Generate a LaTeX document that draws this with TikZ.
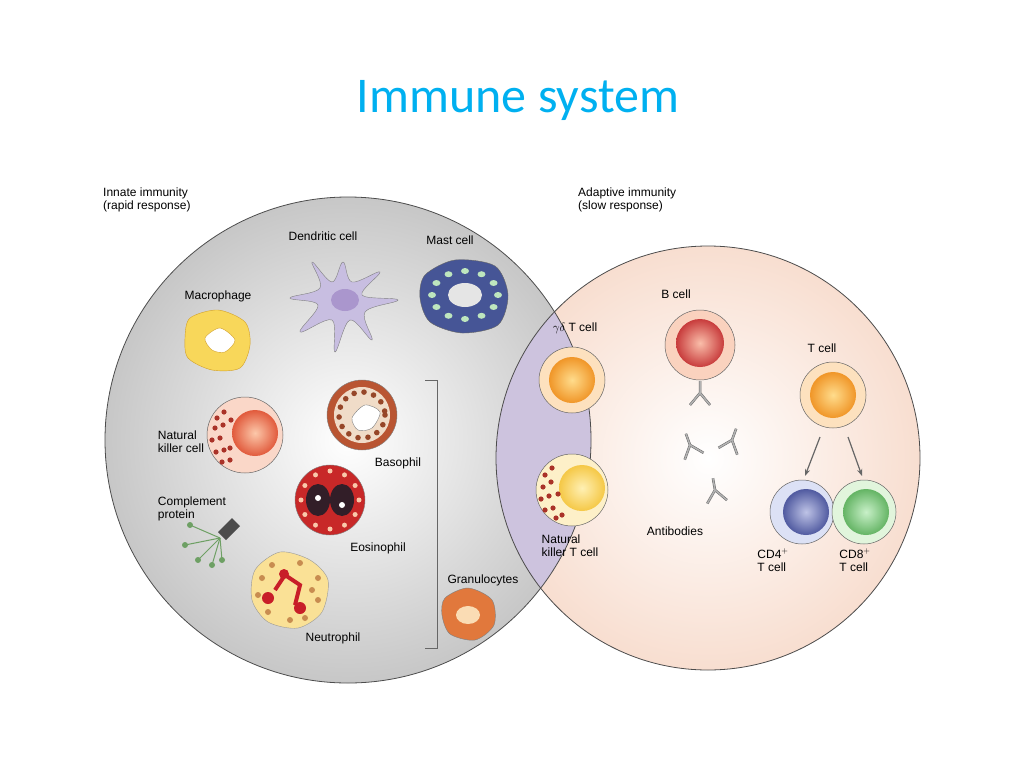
\documentclass[tikz,border=0pt]{standalone}
\usepackage{fontspec}
\setmainfont{Liberation Sans}
\newfontfamily\titlefont{Carlito}
\usetikzlibrary{arrows.meta}
\definecolor{ttl}{RGB}{0,176,240}
\definecolor{peach}{RGB}{248,222,208}
\definecolor{ovl}{RGB}{205,195,222}
\definecolor{nkin}{RGB}{252,200,170}
\definecolor{nkout}{RGB}{225,90,60}
\definecolor{dotred}{RGB}{170,50,40}
\definecolor{orin}{RGB}{255,220,140}
\definecolor{orout}{RGB}{240,150,40}
\definecolor{yin}{RGB}{255,240,180}
\definecolor{yout}{RGB}{245,200,70}
\definecolor{bin}{RGB}{250,190,170}
\definecolor{bout}{RGB}{200,60,60}
\definecolor{c4in}{RGB}{190,195,230}
\definecolor{c4out}{RGB}{80,90,160}
\definecolor{c8in}{RGB}{200,240,200}
\definecolor{c8out}{RGB}{100,180,100}
\definecolor{cgreen}{RGB}{110,160,100}
\definecolor{dcA}{RGB}{200,190,225}
\definecolor{dcB}{RGB}{170,150,205}
\definecolor{mast}{RGB}{70,85,150}
\definecolor{mastdot}{RGB}{190,230,190}
\definecolor{mac}{RGB}{248,215,90}
\definecolor{macd}{RGB}{210,160,40}
\definecolor{nkring}{RGB}{250,215,200}
\definecolor{baso}{RGB}{185,85,50}
\definecolor{basoin}{RGB}{240,220,200}
\definecolor{basodot}{RGB}{150,70,40}
\definecolor{eos}{RGB}{200,40,40}
\definecolor{eosdot}{RGB}{250,200,170}
\definecolor{eosn}{RGB}{50,30,40}
\definecolor{neu}{RGB}{250,225,150}
\definecolor{neudot}{RGB}{200,140,80}
\definecolor{neun}{RGB}{200,30,40}
\definecolor{gran}{RGB}{225,120,60}
\definecolor{granin}{RGB}{250,220,180}
\definecolor{tring}{RGB}{253,225,190}
\definecolor{nktring}{RGB}{253,240,200}
\definecolor{bring}{RGB}{250,210,190}
\definecolor{c4ring}{RGB}{220,225,245}
\definecolor{c8ring}{RGB}{225,245,220}
\begin{document}
\begin{tikzpicture}[x=1pt,y=-1pt,
 lbl/.style={font=\fontsize{12}{13}\selectfont,align=left,inner sep=0pt},
 ring/.style={draw=black!60,line width=0.5pt}]
\useasboundingbox (0,0) rectangle (1024,768);
\node (title) at (518,100) {\titlefont\fontsize{50}{54}\selectfont\color{ttl}Immune system};
% circles
\shade[inner color=white,outer color=black!22] (348,440) circle (243);
\shade[inner color=white,outer color=peach] (708,458) circle (212);
\begin{scope}
\clip (348,440) circle (243);
\fill[ovl] (708,458) circle (212);
\end{scope}
\draw[black!70,line width=0.8pt] (348,440) circle (243);
\draw[black!70,line width=0.8pt] (708,458) circle (212);
% labels
\node[lbl,anchor=north west] (inn) at (103,188) {Innate immunity\\(rapid response)};
\node[lbl,anchor=north west] (ada) at (578,188) {Adaptive immunity\\(slow response)};
\node[lbl] (ldc) at (323,236) {Dendritic cell};
\node[lbl] (lmc) at (450,240) {Mast cell};
\node[lbl] (lma) at (218,296) {Macrophage};
\node[lbl] (lnk) at (181,442) {Natural\\killer cell};
\node[lbl] (lba) at (398,463) {Basophil};
\node[lbl] (leo) at (378,548) {Eosinophil};
\node[lbl] (lcp) at (192,509) {Complement\\protein};
\node[lbl] (lne) at (333,638) {Neutrophil};
\node[lbl] (lgr) at (483,580) {Granulocytes};
\node[lbl] (lgd) at (575,328) {$\gamma\delta$ T cell};
\node[lbl] (lnkt) at (570,546) {Natural\\killer T cell};
\node[lbl] (lb) at (676,294) {B cell};
\node[lbl] (lab) at (675,531) {Antibodies};
\node[lbl] (lt) at (822,348) {T cell};
\node[lbl] (lc4) at (773,560) {CD4$^+$\\T cell};
\node[lbl] (lc8) at (855,560) {CD8$^+$\\T cell};
% dendritic cell
\filldraw[fill=dcA,draw=black!50]
 plot[smooth cycle,tension=0.6] coordinates {(343,262)(352,282)(380,272)(362,295)(398,300)(365,312)(372,340)(350,320)(335,352)(332,320)(300,332)(318,305)(290,298)(320,288)(312,262)(332,282)};
\fill[dcB] (345,300) ellipse (14 and 11);
% mast cell
\filldraw[fill=mast,draw=black!60] plot[smooth cycle] coordinates {(425,275)(455,260)(495,266)(508,295)(498,325)(462,333)(430,322)(420,298)};
\fill[white!80!gray] (465,295) ellipse (17 and 12);
\foreach \a in {0,30,...,330}{\fill[mastdot] (465,295)+({33*cos(\a)},{24*sin(\a)}) ellipse (4 and 3);}
% macrophage
\filldraw[fill=mac,draw=macd] plot[smooth cycle] coordinates {(190,318)(218,310)(245,322)(250,345)(240,368)(212,370)(188,358)(185,338)};
\filldraw[fill=white,draw=macd] plot[smooth cycle] coordinates {(205,338)(220,328)(235,340)(225,352)(212,350)};
% NK cell
\filldraw[fill=nkring,ring] (245,435) circle (38);
\shade[inner color=nkin,outer color=nkout] (255,433) circle (23);
\foreach \p in {(217,418),(224,412),(215,428),(223,425),(212,440),(220,438),(216,452),(224,450),(222,462),(230,460),(231,420),(230,448)}{\fill[dotred] \p circle (2.6);}
% basophil
\filldraw[fill=baso,draw=black!50] (362,415) circle (35);
\fill[basoin] (362,415) circle (28);
\foreach \a in {0,25,...,350}{\fill[basodot] (362,415)+(\a:23) circle (2.8);}
\filldraw[fill=white,draw=black!50] plot[smooth cycle] coordinates {(352,418)(365,405)(380,412)(372,428)(358,430)};
% eosinophil
\filldraw[fill=eos,draw=black!50] (330,500) circle (35);
\foreach \a in {0,30,...,330}{\fill[eosdot] (330,500)+(\a:29) circle (2.5);}
\fill[eosn] (318,500) ellipse (12 and 16);
\fill[eosn] (342,500) ellipse (12 and 16);
\fill[white] (318,498) circle (3);\fill[white] (342,505) circle (3);
% complement protein
\fill[black!70] (232,518) -- (240,526) -- (226,540) -- (218,532) -- cycle;
\foreach \e in {(190,525),(185,545),(198,560),(212,565),(222,560)}{\draw[cgreen,line width=1pt] (220,538) -- \e; \fill[cgreen] \e circle (3);}
% neutrophil
\filldraw[fill=neu,draw=black!40] plot[smooth cycle] coordinates {(255,570)(280,552)(310,560)(328,580)(322,612)(298,628)(268,622)(252,600)};
\foreach \p in {(262,578),(272,565),(300,563),(318,578),(318,600),(305,618),(268,612),(258,595),(290,620),(312,590)}{\fill[neudot] \p circle (3);}
\draw[neun,line width=4pt] (275,590) -- (285,575) -- (300,585) -- (295,605);
\fill[neun] (268,598) circle (6) (300,608) circle (6) (284,574) circle (5);
% bracket
\draw[black!60] (425,380) -- (437,380) -- (437,648) -- (425,648);
% granulocyte
\filldraw[fill=gran,draw=black!50] plot[smooth cycle] coordinates {(445,598)(468,588)(492,600)(494,625)(475,640)(450,634)(442,615)};
\fill[granin] (468,615) ellipse (12 and 9);
% gamma delta T
\filldraw[fill=tring,ring] (572,380) circle (33);
\shade[inner color=orin,outer color=orout] (572,380) circle (23);
% NKT
\filldraw[fill=nktring,ring] (572,490) circle (36);
\shade[inner color=yin,outer color=yout] (582,488) circle (23);
\foreach \p in {(545,475),(552,468),(543,487),(551,482),(541,499),(549,496),(545,510),(553,508),(556,518),(562,515),(558,494)}{\fill[dotred] \p circle (2.6);}
% B cell
\filldraw[fill=bring,ring] (700,345) circle (35);
\shade[inner color=bin,outer color=bout] (700,343) circle (24);
% antibodies
\foreach \x/\y/\r in {700/393/0,690/445/20,732/440/-20,715/490/10}{
 \begin{scope}[shift={(\x,\y)},rotate=\r]
 \draw[black!60,line width=2.5pt] (0,-12) -- (0,0) -- (-10,12) (0,0) -- (10,12);
 \draw[black!30,line width=1.5pt] (0,-12) -- (0,0) -- (-10,12) (0,0) -- (10,12);
 \end{scope}}
% T cell
\filldraw[fill=tring,ring] (833,395) circle (33);
\shade[inner color=orin,outer color=orout] (833,395) circle (23);
\coordinate (t1) at (820,437); \coordinate (t2) at (848,437);
\coordinate (c4) at (805,476); \coordinate (c8) at (862,476);
\draw[black!60,line width=1.2pt,-{Stealth[length=7pt]}] (t1) -- (c4);
\draw[black!60,line width=1.2pt,-{Stealth[length=7pt]}] (t2) -- (c8);
% CD4 / CD8
\filldraw[fill=c4ring,ring] (802,512) circle (32);
\shade[inner color=c4in,outer color=c4out] (806,512) circle (23);
\filldraw[fill=c8ring,ring] (864,512) circle (32);
\shade[inner color=c8in,outer color=c8out] (866,512) circle (23);
\end{tikzpicture}
\end{document}
